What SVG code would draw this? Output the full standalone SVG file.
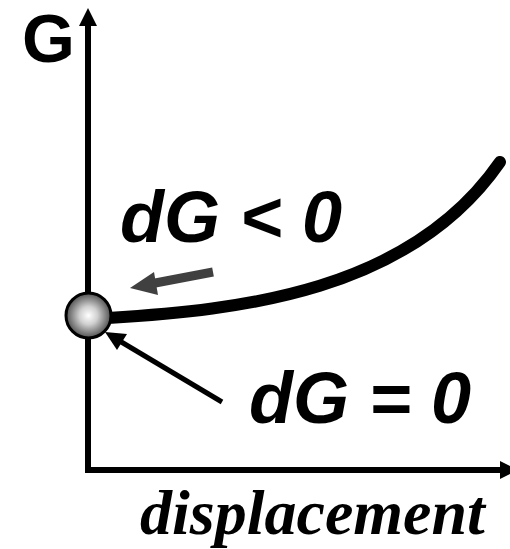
<svg xmlns="http://www.w3.org/2000/svg" width="510" height="549" viewBox="0 0 510 549">
<defs>
<style>
.lbl{font-family:"Liberation Sans",Arial,sans-serif;font-weight:bold;font-style:italic;font-size:72px;fill:#000}
.ax{stroke:#000;stroke-width:6;fill:none}
</style>
<radialGradient id="ballg" cx="0.5" cy="0.5" r="0.5">
<stop offset="0" stop-color="#ffffff"/>
<stop offset="0.4" stop-color="#d0d0d0"/>
<stop offset="1" stop-color="#505050"/>
</radialGradient>
</defs>
<rect width="510" height="549" fill="#fff"/>
<g id="axes">
<path class="ax" d="M88,22 V470 H505"/>
<polygon points="88,8 79,26 97,26" fill="#000"/>
<polygon points="518,470 500,461 500,479" fill="#000"/>
<text x="22" y="62" font-family="Liberation Sans,Arial,sans-serif" font-weight="bold" font-size="68">G</text>
<text x="140" y="534" font-family="Liberation Serif,Times New Roman,serif" font-weight="bold" font-style="italic" font-size="64">displacement</text>
</g>
<g id="connectors">
<path id="curve" d="M108,318 C240,310 410,292 500,162" stroke="#000" stroke-width="12" fill="none" stroke-linecap="round"/>
<line x1="213" y1="272" x2="150" y2="284" stroke="#404040" stroke-width="9"/>
<polygon points="130,288 154,272 158,295" fill="#404040"/>
<line x1="222" y1="402" x2="118" y2="340" stroke="#000" stroke-width="5"/>
<polygon points="105,332 127,334 117,350" fill="#000"/>
</g>
<g id="ball">
<circle cx="88.5" cy="315.5" r="22.5" fill="url(#ballg)" stroke="#000" stroke-width="3"/>
</g>
<g id="dGlt">
<text class="lbl" x="120" y="242">dG &lt; 0</text>
</g>
<g id="dGeq">
<text class="lbl" x="249" y="423">dG = 0</text>
</g>
</svg>
